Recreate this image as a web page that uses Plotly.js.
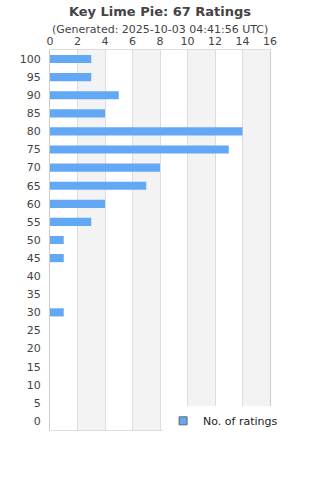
<!DOCTYPE html>
<html><head><meta charset="utf-8">
<script src="https://cdn.plot.ly/plotly-3.0.1.min.js"></script>
<style>html,body{margin:0;padding:0;background:#fff}#chart{width:320px;height:480px}</style>
</head><body><div id="chart"></div>
<script>
const categories = ['100','95','90','85','80','75','70','65','60','55','50','45','40','35','30','25','20','15','10','5','0'];
const ratings = [3,3,5,4,14,13,8,7,4,3,1,1,0,0,1,0,0,0,0,0,0];
const xTicks = [0,2,4,6,8,10,12,14,16];
const titleText = 'Key Lime Pie: 67 Ratings';
const subtitleText = '(Generated: 2025-10-03 04:41:56 UTC)';
const seriesName = 'No. of ratings';
const barColor = '#62a8f4';

const shapes = [];
for (let i = 1; i + 1 < xTicks.length; i += 2) {
  shapes.push({type:'rect', xref:'x', yref:'paper', x0:xTicks[i], x1:xTicks[i+1], y0:0, y1:1,
    fillcolor:'#f3f3f3', line:{width:0}, layer:'below'});
}

const trace = {
  type:'bar', orientation:'h', y:categories, x:ratings, name:seriesName,
  marker:{color:barColor, line:{width:0}}, width:0.45, showlegend:false
};
const legendTrace = {
  type:'scatter', mode:'markers', x:[null], y:[null], name:seriesName,
  marker:{symbol:'square', size:8, color:barColor, line:{color:'#666', width:1}},
  showlegend:true, hoverinfo:'skip'
};

const layout = {
  width:320, height:480,
  margin:{l:50, r:50, t:50, b:50},
  paper_bgcolor:'#fff', plot_bgcolor:'rgba(0,0,0,0)',
  font:{family:'DejaVu Sans', size:11, color:'#444'},
  title:{text:'<b>'+titleText+'</b>', x:0.5, xanchor:'center', y:0.977, yanchor:'middle',
    font:{family:'DejaVu Sans', size:13, color:'#444'}},
  annotations:[{text:subtitleText, xref:'paper', yref:'paper', x:0.5, xanchor:'center',
    y:1, yshift:21, yanchor:'middle', showarrow:false, font:{size:11, color:'#444'}}],
  xaxis:{side:'top', range:[0,16], tickvals:xTicks, ticktext:xTicks.map(String),
    showgrid:true, gridcolor:'#dddddd', gridwidth:1, zeroline:false,
    showline:true, linecolor:'#dddddd', mirror:true, ticks:'', tickfont:{size:11, color:'#444'}},
  yaxis:{type:'category', categoryorder:'array', categoryarray:categories.slice().reverse(),
    showgrid:false, zeroline:false, showline:true, linecolor:'#cccccc', mirror:true,
    ticks:'', ticklabelstandoff:6, tickfont:{size:11, color:'#444'}},
  shapes:shapes,
  legend:{x:0.514, xanchor:'left', y:-0.014, yanchor:'bottom', bgcolor:'#fff',
    font:{size:11, color:'#222'}, borderwidth:0},
  showlegend:true, bargap:0.5
};
Plotly.newPlot('chart', [trace, legendTrace], layout, {displayModeBar:false, staticPlot:true});
</script></body></html>
